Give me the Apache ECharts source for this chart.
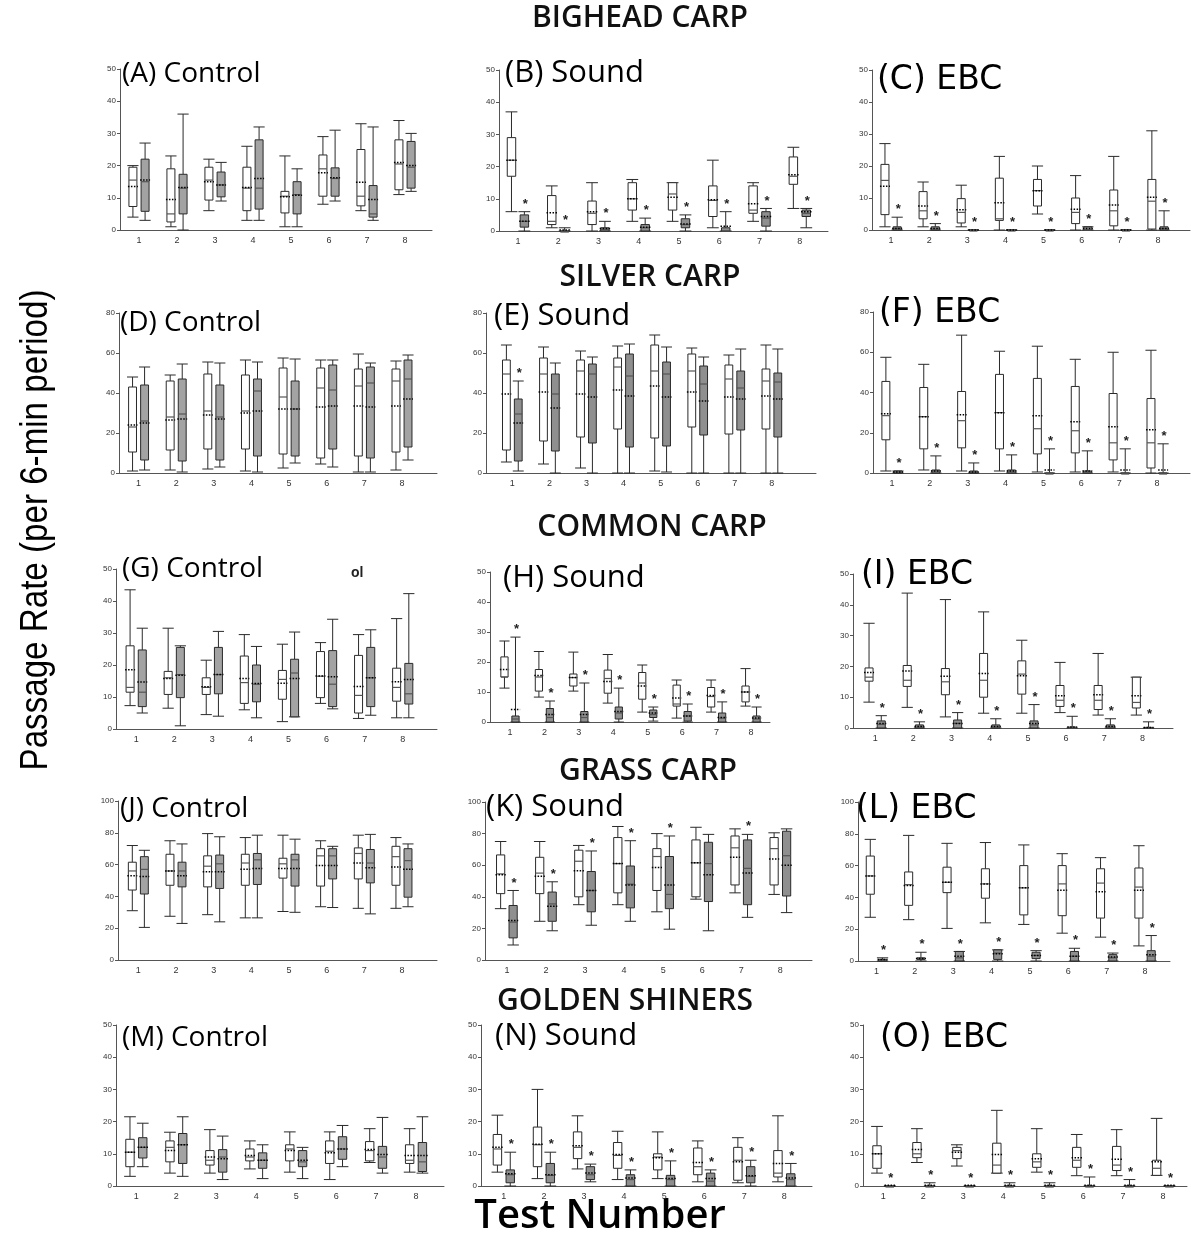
<!DOCTYPE html>
<html lang="en">
  <head>
    <meta charset="UTF-8" />
    <title>Passage rate box plots</title>
    <style>
      html, body { margin: 0; padding: 0; background: #fff; }
      #main { width: 1191px; height: 1236px; }
    </style>
  </head>
  <body>
    <div id="main"></div>
    <script src="https://cdn.jsdelivr.net/npm/echarts@6/dist/echarts.min.js"></script>
    <script>
      const tests = [1, 2, 3, 4, 5, 6, 7, 8]
      // every row: [min, q1, median, q3, max, mean]
      // bighead carp
      const aWhite = [[4, 7.3, 15.5, 19.5, 20, 13.5], [1, 2.5, 5, 19, 23, 9.5], [6, 9.3, 15.5, 19.5, 22, 15], [3, 6, 13, 19.5, 26, 13.2], [1, 5.3, 10.5, 12, 23, 10.3], [8, 10.5, 19, 23.3, 29, 17.8], [6, 7.5, 10.5, 25, 33, 14.8], [11, 12.5, 20.5, 28, 34, 21]]
      const aGray = [[3, 5.8, 15, 22, 27, 15.5], [0, 5, 13, 17.3, 36, 13.2], [9, 10.3, 14, 18, 21, 14], [3, 6.5, 13, 28, 32, 16], [1, 5, 11, 15, 19, 10.8], [9, 10.5, 16, 19.3, 31, 16.2], [3, 4, 5, 13.8, 32, 9.5], [12, 13, 19.5, 27.5, 30, 20]]
      const bWhite = [[6, 17, 22, 29, 37, 22], [1, 2, 3, 11, 14, 5.7], [0, 2, 5.5, 9.3, 15, 6], [3, 6.5, 10, 15, 16, 10], [3, 6.5, 11.5, 15, 15, 10.5], [1, 4.5, 9.5, 14, 22, 9.7], [3, 5.5, 6.5, 14, 15, 8.5], [7, 14.5, 17, 23, 26, 17.5]]
      const bGray = [[0, 1.2, 3, 5, 6, 3], [0, 0, 0, 0, 1, 0.3], [0, 0, 0.5, 1, 3, 0.8], [0, 0, 1, 2, 4, 1.2], [0, 1, 2, 3.8, 5, 2.2], [0, 0, 0, 1, 6, 1.5], [0, 1.5, 4, 6, 7, 4.5], [1, 4.5, 5.5, 6.5, 7, 6]]
      const cWhite = [[1, 4.8, 15.5, 20.5, 27, 13.7], [1, 3.5, 6, 12, 15, 7.5], [1, 2.2, 5.5, 9.8, 14, 6.3], [0, 3, 3.5, 16.2, 23, 8.5], [5, 7.5, 12.3, 15.8, 20, 12.3], [0, 2, 5.5, 10, 17, 6.5], [0, 1.3, 6, 12.5, 23, 7.8], [0, 0.3, 9, 15.8, 31, 10.2]]
      const cGray = [[0, 0, 0.5, 1, 4, 0.5], [0, 0, 0.3, 1, 2, 0.5], [0, 0, 0, 0, 0, 0], [0, 0, 0, 0, 0, 0], [0, 0, 0, 0, 0, 0], [0, 0, 0, 1, 1, 0.5], [0, 0, 0, 0, 0, 0], [0, 0, 0.5, 1, 6, 0.5]]
      // silver carp
      const dWhite = [[1, 10.5, 23, 43, 48, 24], [1.5, 11.5, 28, 46, 49, 26.5], [2, 12, 31, 49.5, 55.5, 29], [1, 12, 31, 49, 56.5, 30], [2.5, 9.5, 38, 52.5, 57.5, 32], [4.5, 7.5, 42.5, 52.5, 56.5, 33], [0.5, 8.5, 43.5, 52, 59.5, 33.5], [1.5, 10.5, 46, 52, 56, 33.5]]
      const dGray = [[1.5, 6.5, 26, 44, 53, 25], [0.5, 6, 29.5, 47, 54.5, 27], [3, 6.5, 28, 44, 55, 27], [0.5, 8.5, 41, 47, 55.5, 31], [5, 8.5, 32, 46, 57, 32], [3, 12, 41.5, 54, 56.5, 33.5], [0.5, 7.5, 45, 53, 55, 33], [6.5, 13, 47, 56.5, 59, 37]]
      const eWhite = [[5.5, 11.5, 49.5, 56.5, 64, 39.5], [4.5, 16, 49.5, 57.5, 63, 40.5], [2.5, 18, 51, 56.5, 61, 39.5], [0, 22, 53, 57.5, 63.5, 41.5], [1, 17.5, 51, 64, 69, 43.5], [0, 23, 51, 59.5, 62.5, 40.5], [0, 19.5, 47, 54, 59, 38], [0, 22, 46, 52, 64, 38.5]]
      const eGray = [[1, 6, 29.5, 37, 46, 25], [0, 11, 39.5, 49.5, 55, 32.5], [0, 15, 49.5, 54.5, 58, 38], [0, 13, 48.5, 59.5, 64.5, 38.5], [0.5, 13.5, 49.5, 55.5, 63, 38], [0, 19, 44.5, 53.5, 58, 36], [0, 21.5, 42.5, 51, 62, 37], [0, 18, 45.5, 50, 62, 37]]
      const fWhite = [[1, 16.5, 28.5, 45.5, 57.5, 29.5], [1.5, 12, 28, 42.5, 54, 28], [1, 12.5, 26, 40.5, 68.5, 29], [1, 12, 30, 49, 60.5, 30], [0.5, 9.5, 22, 47, 63, 28.5], [0.5, 10, 21, 43, 56.5, 25.5], [0.5, 6.5, 15, 39.5, 60, 23], [0, 2.5, 15, 37, 61, 21.5]]
      const fGray = [[0, 0, 0.5, 1, 1, 0.5], [0, 0, 1, 1.5, 8.5, 1], [0, 0, 0.5, 1, 5, 0.5], [0, 0, 0.5, 1.5, 9, 1], [0, 0, 0, 0, 12, 1.5], [0, 0, 0.5, 1, 11, 1], [0, 0, 0, 0, 12, 1.5], [0, 0, 0, 0, 14.5, 1.5]]
      // common carp
      const gWhite = [[7.3, 11.5, 13, 26, 43.5, 18.5], [6.5, 10.8, 16, 18, 31.5, 15.8], [4.5, 10.8, 13, 16, 21.5, 13.2], [6, 8, 14.5, 22.8, 29.5, 15.8], [2.3, 9.3, 15.5, 18.3, 26.5, 14.3], [8, 9.8, 16.5, 24.2, 27, 16.6], [3.3, 5, 10.5, 23, 29.5, 13.3], [3.5, 8.7, 13, 19, 34.5, 14.8]]
      const gGray = [[5, 7, 11.5, 24.7, 31.5, 14.7], [1, 9.8, 17, 25.5, 26, 16.8], [4, 11, 17, 25.5, 30.5, 17], [3.5, 8.5, 14, 20, 25.8, 14.2], [3.8, 3.8, 17.5, 21.8, 30.3, 15.8], [6.3, 7, 14, 24.5, 34.3, 16.3], [4.3, 7, 16, 25.5, 31, 16], [3.5, 7.8, 11, 20.5, 42.3, 15.5]]
      const hWhite = [[11.3, 15, 15, 21.7, 27, 17.5], [8.3, 10.3, 15, 17.5, 23.5, 15.5], [10.3, 12, 14.8, 16, 23.3, 14.8], [6.3, 9.6, 14.5, 17.3, 22.5, 13.5], [3.3, 7.6, 13, 16.5, 19, 12], [1.3, 5.3, 6, 12.3, 14, 8], [3.3, 5, 8.5, 11.5, 14, 8.8], [5.3, 6.7, 10, 12, 17.8, 10]]
      const hGray = [[0, 0, 1, 2, 28.3, 4.2], [0, 0, 1.5, 4.5, 7, 2.5], [0, 0, 1.5, 3.5, 13, 2.5], [0, 1, 3, 5, 11.3, 3.5], [0.3, 1.5, 2.5, 4, 5, 3], [0, 0.3, 2, 3.5, 6, 2], [0, 0, 1.3, 3, 6.7, 1.5], [0, 0, 1, 2, 5, 1.3]]
      const iWhite = [[8.4, 15.2, 16.5, 19.5, 34, 18], [6.7, 13.5, 15.5, 20.3, 43.8, 18.5], [3.6, 10.8, 15, 19.3, 41.7, 16.8], [4.8, 10, 15.5, 24.2, 37.7, 17.7], [4.8, 11, 17.5, 21.8, 28.5, 17], [5, 7, 9, 13.8, 21.3, 10.5], [4.2, 6, 9, 13.8, 24.2, 10.8], [4.2, 6.5, 8.3, 16.5, 16.5, 10.5]]
      const iGray = [[0, 0, 1.2, 2.3, 4, 1.5], [0, 0, 0.3, 1, 2, 0.5], [0, 0, 1.5, 2.6, 5, 1.5], [0, 0, 0.3, 1, 3, 0.5], [0, 0, 1, 2.3, 7.6, 1.5], [0, 0, 0, 0.3, 3.8, 0.3], [0, 0, 0.3, 1, 3, 0.5], [0, 0, 0, 0.2, 2, 0.2]]
      // grass carp
      const jWhite = [[31, 44, 56, 61.5, 72, 53], [27.5, 47, 56, 66.5, 75, 56], [28.5, 46, 59, 65.5, 79.5, 55.5], [26.5, 47, 61, 66.5, 77, 57], [30.5, 51.5, 60.5, 64, 78.5, 57.5], [33.5, 46.5, 65.5, 70, 75, 59.5], [32.5, 51, 67, 70.5, 78.5, 61], [32.5, 47, 65, 71.5, 77, 58.5]]
      const jGray = [[20.5, 41.5, 57, 65, 69, 52.5], [23, 46, 56, 61.5, 73, 53], [24, 45, 60.5, 66, 77.5, 55.5], [26.5, 47.5, 63, 67, 78.5, 57.5], [30, 46.5, 63, 66.5, 76, 57.5], [33, 51, 65.5, 70, 71.5, 59.5], [29, 48.5, 61, 69.5, 79, 58], [33.5, 39.5, 62.5, 70, 73, 57]]
      const kWhite = [[32.5, 42, 54.5, 66.5, 75, 54], [24.5, 42, 55, 65, 75, 53], [35, 40, 62.5, 69.5, 72.5, 56.5], [35, 42.5, 61, 77.5, 84.5, 61], [30.5, 44, 65.5, 70.5, 80, 58.5], [38.5, 40, 61.5, 76, 84, 61.5], [42.5, 47.5, 71, 78.5, 83, 65], [41.5, 47.5, 70.5, 77.5, 80.5, 64]]
      const kGray = [[9.5, 14, 24, 34.5, 44, 25], [18.5, 24.5, 35.5, 43, 49.5, 34], [22, 30.5, 44, 56, 69, 44], [24.5, 33, 48, 59.5, 75.5, 47.5], [19.5, 32.5, 41.5, 65.5, 78.5, 47.5], [18.5, 37, 61, 74.5, 79.5, 54], [27, 35, 58, 76, 79.5, 55], [30, 40.5, 66, 81.5, 83, 60]]
      const lWhite = [[27.5, 42, 53.5, 66, 76.5, 53.5], [26, 35, 48, 56, 79, 47.5], [20.5, 43, 49.5, 59, 74, 49.5], [24, 39.5, 48.5, 58, 74.5, 48.5], [23, 29, 46, 60, 73, 46], [17.5, 28.5, 48.5, 60, 67.5, 44.5], [15, 27, 49, 58, 65, 43.5], [9.5, 27, 46.5, 58.5, 72.5, 44.5]]
      const lGray = [[0, 0, 0.5, 1, 2, 1], [0, 1, 1.5, 2, 5.5, 1.5], [0, 0, 2, 6, 6, 3], [0, 1, 5, 7, 7, 4.5], [0, 1.5, 3.5, 5.5, 6.5, 3.5], [0, 0, 3, 6, 8, 3], [0, 0, 2, 4, 5, 2.5], [0, 0, 3, 6.5, 16, 4]]
      // golden shiners
      const mWhite = [[3, 6, 10.5, 14.5, 21.5, 10.5], [4, 7.5, 12, 14, 16.7, 11], [4, 6.5, 8, 11, 17.5, 9], [5.3, 7.8, 9, 11.5, 14, 9.5], [4.3, 7.8, 11.5, 12.8, 16.8, 11], [2, 7, 10.8, 14, 16.8, 10.3], [7.3, 7.8, 11, 13.8, 17.8, 11.3], [4.3, 7, 8, 12.8, 17.8, 9.5]]
      const mGray = [[6, 8.7, 12, 15, 19.5, 12], [3, 7, 12.8, 16.3, 21.5, 12.8], [2, 4.3, 9, 11.3, 15.5, 8.5], [2.3, 5.5, 8, 10.3, 12.8, 8], [2.3, 6, 7.5, 11, 12, 8], [6, 8.3, 11.5, 15.3, 18.8, 11.5], [4, 5.5, 9, 12.3, 21.3, 9.8], [4, 4.5, 7.5, 13.5, 21.5, 9.5]]
      const nWhite = [[4.3, 6.5, 11.5, 16, 22, 12], [2.3, 6, 12.8, 18.3, 30, 13], [5.3, 8.5, 12, 16.8, 21.8, 12.5], [2, 5.5, 9.5, 13.5, 17, 9.8], [2.3, 5, 9, 10, 16.8, 8.8], [1.3, 3.5, 6, 11.8, 14, 7.3], [1, 1.8, 8, 12, 15, 7.5], [1.3, 2.8, 4, 11, 21.8, 7]]
      const nGray = [[0, 1, 3.5, 5, 10.5, 3.8], [0, 1, 3.3, 7, 10.5, 3.5], [1.3, 2, 3.5, 6, 6.8, 4], [0, 0, 2, 3.5, 5, 2.5], [0, 0, 2, 3.3, 7.8, 2.3], [0, 0, 1.5, 4, 5, 2.3], [0, 1, 3, 6, 8, 3.2], [0, 0, 2, 3.8, 7, 2.5]]
      const oWhite = [[4, 5.5, 10, 12.5, 18.5, 10], [7.3, 8.8, 10, 13.5, 17.8, 11.3], [6.2, 8.5, 11, 12, 12.8, 10.5], [4, 4, 6.5, 13.3, 23.5, 9.8], [4.3, 5.8, 7.5, 10, 17.8, 8.5], [3.2, 5.8, 8, 12, 16, 8.8], [3.2, 4.8, 6.5, 12.3, 17.5, 8.3], [3.3, 3.3, 5.5, 8, 21, 7.5]]
      const oGray = [[0, 0, 0, 0, 0, 0.2], [0, 0, 0, 0, 1, 0.2], [0, 0, 0, 0, 0, 0.2], [0, 0, 0, 0, 1, 0.2], [0, 0, 0, 0, 1, 0.2], [0, 0, 0, 0, 2.8, 0.2], [0, 0, 0, 0, 2, 0.2], [0, 0, 0, 0, 0, 0.2]]

      // test numbers marked with * (on the gray box)
      const allStars = [1, 2, 3, 4, 5, 6, 7, 8]
      const eStars = [1]
      const kStars = [1, 2, 3, 4, 5, 7]

      const yTicks50 = [0, 10, 20, 30, 40, 50]
      const yTicks80 = [0, 20, 40, 60, 80]
      const yTicks100 = [0, 20, 40, 60, 80, 100]

      const rowTitles = ['BIGHEAD CARP', 'SILVER CARP', 'COMMON CARP', 'GRASS CARP', 'GOLDEN SHINERS']

      // layout of the 15 panels
      const panels = [
        { name: '(A) Control', kind: 'c', white: aWhite, gray: aGray, stars: [], ticks: yTicks50, left: 120, top: 69, width: 312, height: 161, xMin: 0.5, xMax: 8.71, lx: 122, ly: 60 },
        { name: '(B) Sound', kind: 's', white: bWhite, gray: bGray, stars: allStars, ticks: yTicks50, left: 499, top: 70, width: 329, height: 161, xMin: 0.53, xMax: 8.7, lx: 505, ly: 58 },
        { name: '(C) EBC', kind: 'e', white: cWhite, gray: cGray, stars: allStars, ticks: yTicks50, left: 872, top: 70, width: 318, height: 160, xMin: 0.5, xMax: 8.84, lx: 877, ly: 64 },
        { name: '(D) Control', kind: 'c', white: dWhite, gray: dGray, stars: [], ticks: yTicks80, left: 119, top: 313, width: 318, height: 160, xMin: 0.48, xMax: 8.93, lx: 120, ly: 309 },
        { name: '(E) Sound', kind: 's', white: eWhite, gray: eGray, stars: eStars, ticks: yTicks80, left: 486, top: 313, width: 330, height: 160, xMin: 0.29, xMax: 9.19, lx: 494, ly: 301 },
        { name: '(F) EBC', kind: 'e', white: fWhite, gray: fGray, stars: allStars, ticks: yTicks80, left: 873, top: 312, width: 317, height: 161, xMin: 0.5, xMax: 8.87, lx: 879, ly: 297 },
        { name: '(G) Control', kind: 'c', white: gWhite, gray: gGray, stars: [], ticks: yTicks50, left: 116, top: 569, width: 321, height: 160, xMin: 0.47, xMax: 8.9, lx: 122, ly: 555 },
        { name: '(H) Sound', kind: 's', white: hWhite, gray: hGray, stars: allStars, ticks: yTicks50, left: 490, top: 572, width: 280, height: 150, xMin: 0.42, xMax: 8.55, lx: 503, ly: 563 },
        { name: '(I) EBC', kind: 'e', white: iWhite, gray: iGray, stars: allStars, ticks: yTicks50, left: 853, top: 574, width: 320, height: 154, xMin: 0.42, xMax: 8.8, lx: 861, ly: 559 },
        { name: '(J) Control', kind: 'c', white: jWhite, gray: jGray, stars: [], ticks: yTicks100, left: 118, top: 801, width: 319, height: 159, xMin: 0.46, xMax: 8.93, lx: 120, ly: 795 },
        { name: '(K) Sound', kind: 's', white: kWhite, gray: kGray, stars: kStars, ticks: yTicks100, left: 485, top: 802, width: 327, height: 158, xMin: 0.44, xMax: 8.81, lx: 486, ly: 792 },
        { name: '(L) EBC', kind: 'e', white: lWhite, gray: lGray, stars: allStars, ticks: yTicks100, left: 858, top: 802, width: 312, height: 159, xMin: 0.52, xMax: 8.65, lx: 856, ly: 793 },
        { name: '(M) Control', kind: 'c', white: mWhite, gray: mGray, stars: [], ticks: yTicks50, left: 116, top: 1025, width: 328, height: 161, xMin: 0.49, xMax: 8.7, lx: 122, ly: 1024 },
        { name: '(N) Sound', kind: 's', white: nWhite, gray: nGray, stars: allStars, ticks: yTicks50, left: 481, top: 1025, width: 331, height: 161, xMin: 0.43, xMax: 8.69, lx: 495, ly: 1021 },
        { name: '(O) EBC', kind: 'e', white: oWhite, gray: oGray, stars: allStars, ticks: yTicks50, left: 863, top: 1025, width: 324, height: 161, xMin: 0.49, xMax: 8.6, lx: 880, ly: 1022 }
      ]
      const titleY = [18, 277, 527, 771, 1001]
      const titleX = [640, 650, 652, 648, 625]

      // one box (whiskers, box, median, dotted mean, optional *)
      function boxRenderer(side, fill) {
        return function (params, api) {
          const base = api.coord([api.value(0), 0])
          const step = api.size([1, 0])[0]
          const cx = base[0] + side * step * 0.16
          const bw = step * 0.21
          const y = (i) => api.coord([api.value(0), api.value(i)])[1]
          const yMin = y(1), yQ1 = y(2), yMed = y(3), yQ3 = y(4), yMax = y(5), yMean = y(6)
          const cap = bw * 0.7
          const line = { stroke: '#2a2a2a', lineWidth: 1 }
          const kids = [
            { type: 'line', shape: { x1: cx, y1: yMax, x2: cx, y2: yQ3 }, style: line },
            { type: 'line', shape: { x1: cx, y1: yQ1, x2: cx, y2: yMin }, style: line },
            { type: 'line', shape: { x1: cx - cap, y1: yMax, x2: cx + cap, y2: yMax }, style: line },
            { type: 'line', shape: { x1: cx - cap, y1: yMin, x2: cx + cap, y2: yMin }, style: line },
            {
              type: 'rect',
              shape: { x: cx - bw / 2, y: yQ3, width: bw, height: Math.max(yQ1 - yQ3, 1) },
              style: { fill: fill, stroke: '#2a2a2a', lineWidth: 1 }
            },
            { type: 'line', shape: { x1: cx - bw / 2, y1: yMed, x2: cx + bw / 2, y2: yMed }, style: { stroke: '#555', lineWidth: 1.2 } },
            {
              type: 'line',
              shape: { x1: cx - bw / 2 - 1, y1: yMean, x2: cx + bw / 2 + 1, y2: yMean },
              style: { stroke: '#000', lineWidth: 1.5, lineDash: [1.5, 1.5] }
            }
          ]
          if (api.value(7)) {
            kids.push({
              type: 'text',
              x: cx + 1,
              y: yMax - 1,
              style: { text: '*', fill: '#222', font: 'bold 13px "Liberation Sans"', align: 'center', verticalAlign: 'bottom', textAlign: 'center', textVerticalAlign: 'bottom' }
            })
          }
          return { type: 'group', children: kids }
        }
      }

      const grid = []
      const xAxis = []
      const yAxis = []
      const series = []
      const graphic = []

      panels.forEach(function (p, i) {
        grid.push({ left: p.left, top: p.top, width: p.width, height: p.height })
        xAxis.push({
          type: 'value',
          gridIndex: i,
          min: p.xMin,
          max: p.xMax,
          axisLine: { show: true, onZero: false, lineStyle: { color: '#555', width: 1 } },
          axisTick: { show: false },
          splitLine: { show: false },
          axisLabel: { customValues: tests, fontSize: 9, color: '#333', margin: 6, fontFamily: 'Liberation Sans' }
        })
        const top = p.ticks[p.ticks.length - 1]
        yAxis.push({
          type: 'value',
          gridIndex: i,
          min: 0,
          max: top,
          interval: p.ticks[1],
          axisLine: { show: true, lineStyle: { color: '#555', width: 1 } },
          axisTick: { show: true, length: 3, lineStyle: { color: '#555' } },
          splitLine: { show: false },
          axisLabel: { fontSize: 8, color: '#333', margin: 4, fontFamily: 'Liberation Sans' }
        })
        const whiteData = p.white.map((d, k) => [tests[k]].concat(d, [0]))
        const grayData = p.gray.map((d, k) => [tests[k]].concat(d, [p.stars.indexOf(tests[k]) >= 0 ? 1 : 0]))
        series.push({
          type: 'custom',
          xAxisIndex: i,
          yAxisIndex: i,
          renderItem: boxRenderer(-1, '#ffffff'),
          encode: { x: 0, y: [1, 2, 3, 4, 5, 6] },
          data: whiteData,
          clip: false,
          silent: true
        })
        series.push({
          type: 'custom',
          xAxisIndex: i,
          yAxisIndex: i,
          renderItem: boxRenderer(1, p.kind === 'c' ? '#a3a3a3' : '#8f8f8f'),
          encode: { x: 0, y: [1, 2, 3, 4, 5, 6] },
          data: grayData,
          clip: false,
          silent: true
        })
        const font = p.kind === 'e'
          ? 'normal 33px "DejaVu Sans"'
          : p.kind === 's'
          ? 'normal 31px "Open Sans"'
          : 'normal 28px "Open Sans"'
        graphic.push({
          type: 'text',
          left: p.lx,
          top: p.ly,
          style: { text: p.name, font: font, fill: '#000' }
        })
      })

      rowTitles.forEach(function (t, r) {
        graphic.push({
          type: 'text',
          x: titleX[r],
          y: titleY[r],
          style: { text: t, font: '600 30px "Open Sans"', fill: '#111', align: 'center', verticalAlign: 'middle' }
        })
      })

      // stray fragment next to panel G
      graphic.push({ type: 'text', x: 351, y: 566, style: { text: 'ol', font: 'bold 14px "Liberation Sans"', fill: '#222' } })

      graphic.push({
        type: 'text',
        x: 36,
        y: 530,
        rotation: Math.PI / 2,
        scaleX: 0.85,
        style: { text: 'Passage Rate (per 6-min period)', font: 'normal 39px "Liberation Sans"', fill: '#000', align: 'center', verticalAlign: 'middle' }
      })
      graphic.push({
        type: 'text',
        x: 600,
        y: 1217,
        style: { text: 'Test Number', font: '600 40px "Open Sans"', fill: '#000', align: 'center', verticalAlign: 'middle' }
      })

      const myChart = echarts.init(document.getElementById('main'), null, { renderer: 'canvas' })
      myChart.setOption({
        backgroundColor: '#ffffff',
        animation: false,
        grid: grid,
        xAxis: xAxis,
        yAxis: yAxis,
        series: series,
        graphic: graphic
      })
    </script>
  </body>
</html>
